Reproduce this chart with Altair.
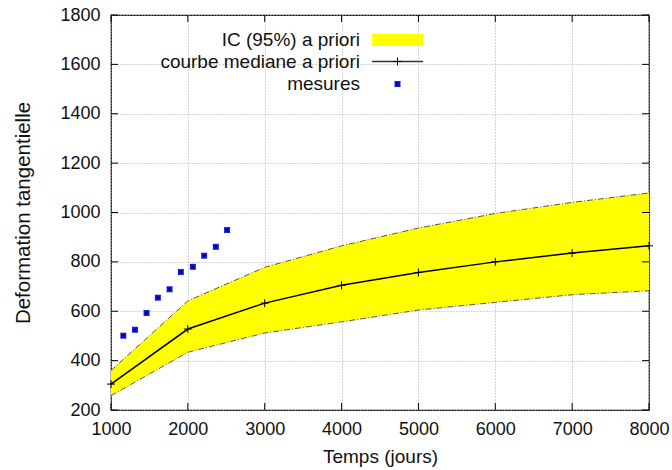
import altair as alt
import pandas as pd

# ---- data ----
t_model = [1000, 2000, 3000, 4000, 5000, 6000, 7000, 8000]
median = [305, 528, 633, 705, 757, 800, 836, 865]
upper = [360, 642, 778, 865, 937, 996, 1041, 1079]
lower = [258, 434, 512, 557, 605, 636, 667, 683]

t_mes = [1160, 1312, 1463, 1610, 1762, 1909, 2065, 2212, 2364, 2510]
mes = [501, 525, 593, 655, 689, 759, 780, 825, 861, 929]

x_ticks = [1000, 2000, 3000, 4000, 5000, 6000, 7000, 8000]
y_ticks = [200, 400, 600, 800, 1000, 1200, 1400, 1600, 1800]

legend_labels = ["IC (95%) a priori", "courbe mediane a priori", "mesures"]

W, H = 538, 395
FONT = "Liberation Sans"

model = pd.DataFrame({"t": t_model, "med": median, "up": upper, "lo": lower})
meas = pd.DataFrame({"t": t_mes, "v": mes})
xt = pd.DataFrame({"t": x_ticks})
yt = pd.DataFrame({"v": y_ticks})

xscale = alt.Scale(domain=[1000, 8000], nice=False, zero=False)
yscale = alt.Scale(domain=[200, 1800], nice=False, zero=False)

X = alt.X("t:Q", scale=xscale,
          axis=alt.Axis(values=x_ticks, title="Temps (jours)", format="d"))
Y_axis = alt.Axis(values=y_ticks, title="Deformation tangentielle", format="d")

base = alt.Chart(model)

band = base.mark_area(color="#ffff00", opacity=1).encode(
    x=X,
    y=alt.Y("lo:Q", scale=yscale, axis=Y_axis),
    y2="up:Q",
)

edge_style = dict(color="#555555", strokeWidth=1, strokeDash=[6, 2, 1, 2])
edge_up = base.mark_line(**edge_style).encode(x="t:Q", y="up:Q")
edge_lo = base.mark_line(**edge_style).encode(x="t:Q", y="lo:Q")

med_line = base.mark_line(color="black", strokeWidth=1.5).encode(x="t:Q", y="med:Q")
plus_path = "M-1,0H1M0,-1V1"
med_pts = base.mark_point(shape=plus_path, size=64, filled=False,
                          color="black", strokeWidth=1, opacity=1).encode(x="t:Q", y="med:Q")

star_path = "M-1,-1H1V1H-1Z"
cross_path = "M-1,-1L1,1M-1,1L1,-1M-1,0H1M0,-1V1"
meas_pts = alt.Chart(meas).mark_point(shape=star_path, size=36, filled=True,
                                      color="#2020ff", opacity=1).encode(x="t:Q", y="v:Q")
meas_x = alt.Chart(meas).mark_point(shape=cross_path, size=20,
                                    filled=False, color="#000066", strokeWidth=0.8,
                                    opacity=1).encode(x="t:Q", y="v:Q")

# inward ticks on all four sides
TL = 7
xt_b = alt.Chart(xt).mark_rule(color="black").encode(x="t:Q", y=alt.value(H), y2=alt.value(H - TL))
xt_t = alt.Chart(xt).mark_rule(color="black").encode(x="t:Q", y=alt.value(0), y2=alt.value(TL))
yt_l = alt.Chart(yt).mark_rule(color="black").encode(y=alt.Y("v:Q"), x=alt.value(0), x2=alt.value(TL))
yt_r = alt.Chart(yt).mark_rule(color="black").encode(y=alt.Y("v:Q"), x=alt.value(W), x2=alt.value(W - TL))

# manual gnuplot-style legend (text right-aligned, sample to its right)
ROW_Y = [25, 46.5, 69]
TXT_X = 249
SX0, SX1 = 261, 312
SXM = (SX0 + SX1) / 2

leg_text = []
for lab, yy in zip(legend_labels, ROW_Y):
    leg_text.append(
        alt.Chart(pd.DataFrame({"label": [lab]})).mark_text(
            align="right", baseline="middle", fontSize=19, font=FONT, color="#111111"
        ).encode(text="label:N", x=alt.value(TXT_X), y=alt.value(yy))
    )

one = pd.DataFrame({"k": [0]})
leg_rect = alt.Chart(one).mark_rect(color="#ffff00").encode(
    x=alt.value(SX0), x2=alt.value(SX1), y=alt.value(ROW_Y[0] - 6), y2=alt.value(ROW_Y[0] + 6))
leg_line = alt.Chart(one).mark_rule(color="#333333", strokeWidth=1.3).encode(
    x=alt.value(SX0), x2=alt.value(SX1), y=alt.value(ROW_Y[1]))
leg_plus = alt.Chart(one).mark_point(shape=plus_path, size=64, filled=False, color="black",
                                     strokeWidth=1, opacity=1).encode(
    x=alt.value(SXM), y=alt.value(ROW_Y[1]))
leg_star = alt.Chart(one).mark_point(shape=star_path, size=36, filled=True, color="#2020ff",
                                     opacity=1).encode(x=alt.value(SXM), y=alt.value(ROW_Y[2]))
leg_starx = alt.Chart(one).mark_point(shape=cross_path, size=20,
                                      filled=False, color="#000066", strokeWidth=0.8,
                                      opacity=1).encode(x=alt.value(SXM), y=alt.value(ROW_Y[2]))

chart = alt.layer(
    band, edge_up, edge_lo, med_line, med_pts, meas_pts, meas_x,
    xt_b, xt_t, yt_l, yt_r,
    *leg_text, leg_rect, leg_line, leg_plus, leg_star, leg_starx,
).properties(
    width=W, height=H,
    autosize=alt.AutoSizeParams(type="none"),
    padding={"left": 111, "top": 15, "right": 23, "bottom": 60},
    background="white",
).configure_view(
    stroke="black", strokeWidth=1.2
).configure_axis(
    domain=False, ticks=False, grid=True, gridColor="#aaaaaa", gridDash=[1, 2],
    gridWidth=1, labelFont=FONT, labelFontSize=18, labelColor="#111111", labelFlush=False,
    labelOverlap=False,
    titleFont=FONT, titleFontSize=19, titleFontWeight="normal", titleColor="#111111",
).configure_axisX(
    labelPadding=10, titlePadding=9,
).configure_axisY(
    labelPadding=11, titlePadding=26, titleFontSize=20.5,
)

chart.save("out.html", embed_options={"renderer": "svg", "actions": False})
